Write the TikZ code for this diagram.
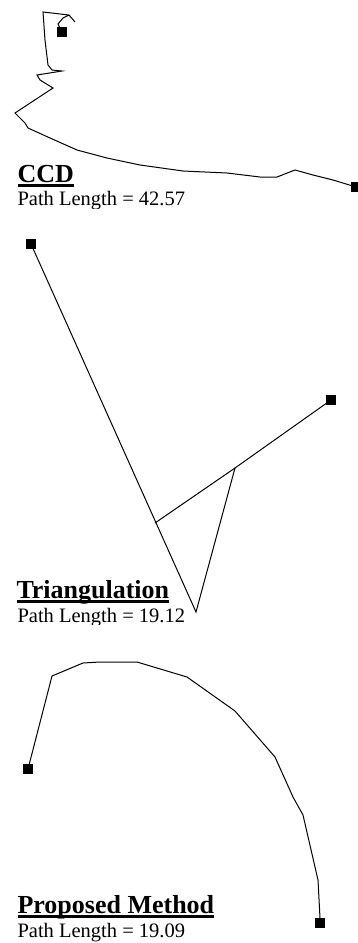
\documentclass[tikz,border=0pt]{standalone}
\usepackage{fontspec}
\setmainfont{Liberation Serif}
\usepackage{tikz}
\newcommand{\thickul}[1]{\setbox0\hbox{#1}\rlap{\rule[-4.8pt]{\wd0}{2.8pt}}\box0}

\begin{document}
\begin{tikzpicture}[x=1pt, y=-1pt, line width=1pt,
        endpt/.style={fill=black, minimum size=10.5pt, inner sep=0pt},
        heading/.style={font=\fontsize{26}{28}\selectfont\bfseries, anchor=base west, inner sep=0pt},
        score/.style={font=\fontsize{20.5}{24}\selectfont, anchor=base west, inner sep=0pt}]
        \useasboundingbox (0,0) rectangle (358,943);

        \begin{scope}
        \clip (0,0) rectangle (358,208);
        \node[endpt] (ccdstart) at (62,32) {};
        \node[endpt] (ccdgoal) at (356,187) {};
        \draw (ccdstart.center) -- (58,24) -- (63,18) -- (69,15) -- (75,22) -- (69,15) -- (43,12) -- (45,40) -- (48,65)
            -- (52,70) -- (62,71) -- (37,75) -- (40,80) -- (53,88) -- (15,113) -- (25,123) -- (28,128) -- (50,138)
            -- (77,150) -- (107,158) -- (140,165) -- (183,171) -- (227,173) -- (260,177) -- (277,177) -- (295,170)
            -- (313,175) -- (333,180) -- (ccdgoal.center);
        \node[heading] (ccdtitle) at (17,182) {\thickul{CCD}};
        \node[score] (ccdscore) at (17,205) {Path Length = 42.57};
        \end{scope}

        \begin{scope}
        \clip (0,214) rectangle (358,624);
        \node[endpt] (tristart) at (31,244) {};
        \node[endpt] (trigoal) at (331,400) {};
        \coordinate (trimeet) at (155,523);
        \coordinate (trijoint) at (235,468);
        \coordinate (triapex) at (196,612);
        \draw (tristart.center) -- (triapex) -- (trijoint) -- (trigoal.center);
        \draw (trimeet) -- (trijoint);
        \node[heading] (trititle) at (16,598) {\thickul{Triangulation}};
        \node[score] (triscore) at (17,622) {Path Length = 19.12};
        \end{scope}

        \begin{scope}
        \clip (0,630) rectangle (358,943);
        \node[endpt] (pmstart) at (28,769) {};
        \node[endpt] (pmgoal) at (320,923) {};
        \draw (pmstart.center) -- (52,676) -- (83,663) -- (100,662) -- (137,662) -- (187,677) -- (235,711)
            -- (275,757) -- (293,797) -- (303,815) -- (318,880) -- (320,918) -- (pmgoal.center);
        \node[heading] (pmtitle) at (17,913) {\thickul{Proposed Method}};
        \node[score] (pmscore) at (17,937) {Path Length = 19.09};
        \end{scope}
    \end{tikzpicture}
\end{document}
